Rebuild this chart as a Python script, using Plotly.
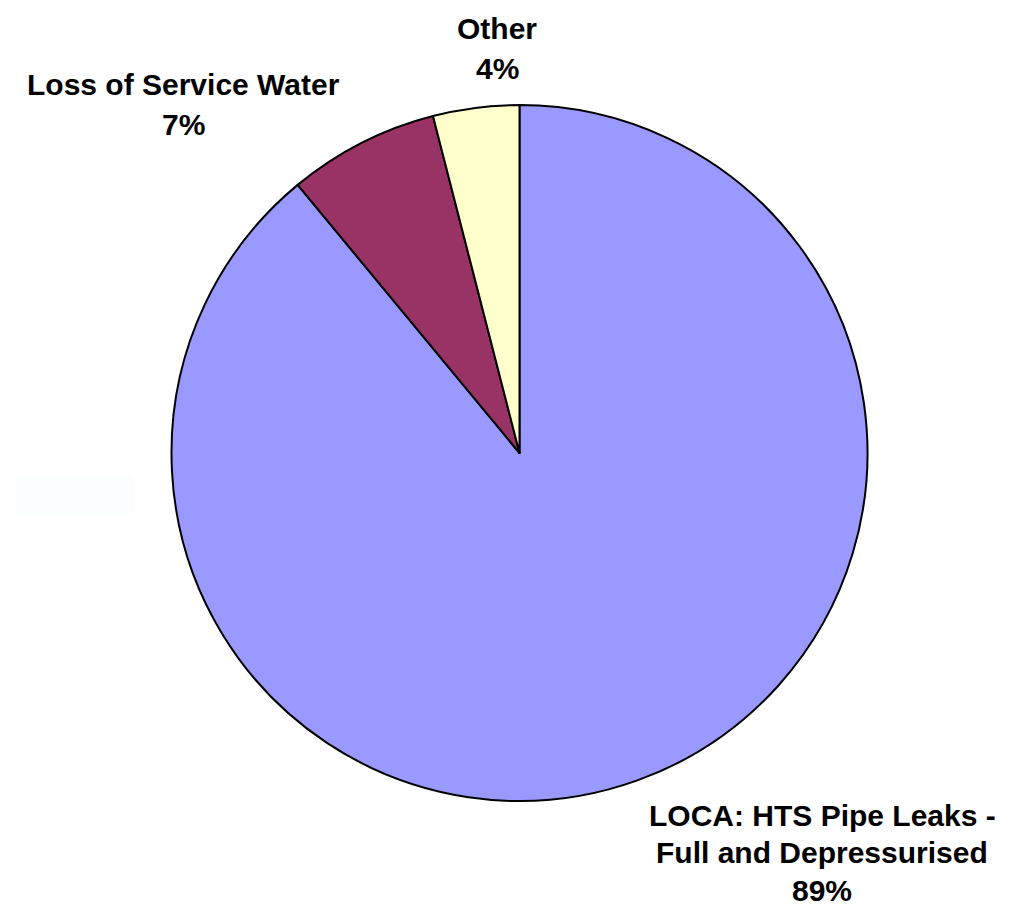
import plotly.graph_objects as go

W, H = 1016, 913

# Slice data, clockwise from 12 o'clock
categories = ["LOCA: HTS Pipe Leaks - Full and Depressurised", "Loss of Service Water", "Other"]
label_lines = [["LOCA: HTS Pipe Leaks -", "Full and Depressurised"], ["Loss of Service Water"], ["Other"]]
values = [89, 7, 4]
colors = ["#9999FF", "#993366", "#FFFFCC"]

# Label anchor (centre x, first-line y) and line spacing in pixels
label_pos = [(822, 815), (183, 85), (497, 29)]
line_steps = [37.5, 39.5, 39.5]

fig = go.Figure()
fig.add_trace(go.Pie(
    labels=categories,
    values=values,
    sort=False,
    direction="clockwise",
    rotation=0,
    marker=dict(colors=colors, line=dict(color="#000000", width=2)),
    textinfo="none",
    hoverinfo="label+percent",
    showlegend=False,
    domain=dict(x=[171 / W, 868 / W], y=[1 - 801 / H, 1 - 105 / H]),
))

total = sum(values)
annotations = []
for lines, v, (cx, cy), step in zip(label_lines, values, label_pos, line_steps):
    all_lines = lines + [f"{round(100 * v / total)}%"]
    for i, t in enumerate(all_lines):
        annotations.append(dict(
            x=cx / W, y=1 - (cy + i * step) / H, xref="paper", yref="paper",
            text=f"<b>{t}</b>", showarrow=False, xanchor="center", yanchor="middle",
            borderpad=0,
            font=dict(family="Liberation Sans, Arial, sans-serif", size=30, color="#000000"),
        ))

fig.update_layout(
    width=W, height=H,
    margin=dict(l=0, r=0, t=0, b=0),
    paper_bgcolor="#FFFFFF",
    plot_bgcolor="#FFFFFF",
    annotations=annotations,
    shapes=[dict(type="rect", xref="paper", yref="paper",
                 x0=16 / W, x1=133 / W, y0=1 - 515 / H, y1=1 - 475 / H,
                 fillcolor="#FBFEFE", line=dict(width=0), layer="below")],
)

fig.write_html("out.html")
